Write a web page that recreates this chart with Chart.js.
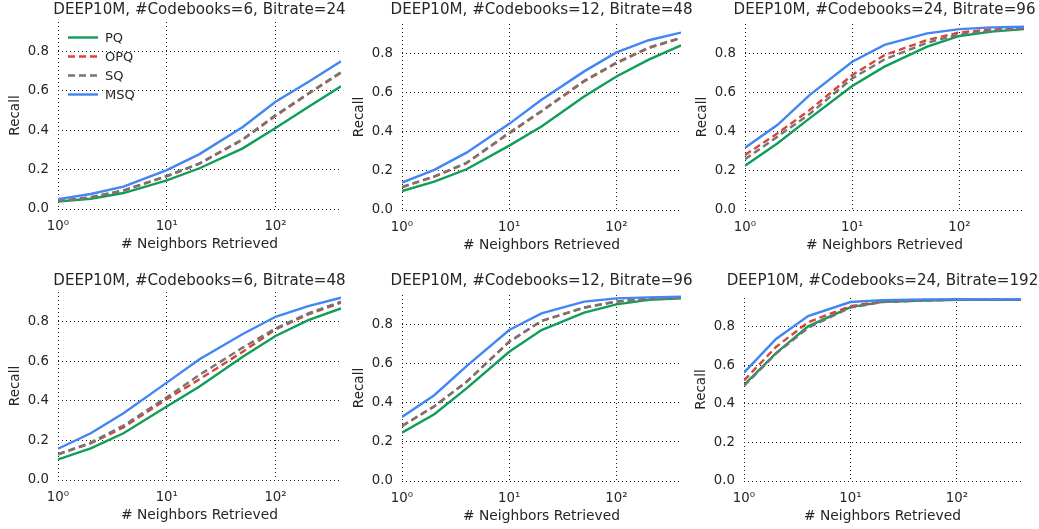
<!DOCTYPE html>
<html>
<head>
<meta charset="utf-8">
<script src="https://cdn.jsdelivr.net/npm/chart.js@4.4.1/dist/chart.umd.min.js"></script>
<style>
  html, body { margin: 0; padding: 0; background: #fff; }
  body { width: 1039px; height: 529px; position: relative; overflow: hidden; }
  canvas { position: absolute; }
</style>
</head>
<body>
<script>
// neighbors retrieved (x) for every panel
var neighbors = [1, 2, 4, 10, 20, 50, 100, 200, 400];

var titles = [
  "DEEP10M, #Codebooks=6, Bitrate=24",
  "DEEP10M, #Codebooks=12, Bitrate=48",
  "DEEP10M, #Codebooks=24, Bitrate=96",
  "DEEP10M, #Codebooks=6, Bitrate=48",
  "DEEP10M, #Codebooks=12, Bitrate=96",
  "DEEP10M, #Codebooks=24, Bitrate=192"
];

var yTicks = [0, 0.2, 0.4, 0.6, 0.8];
var xTicks = [1, 10, 100];

// recall per panel, one row per subplot
var pqRecall = [
  [0.038, 0.052, 0.081, 0.145, 0.207, 0.308, 0.412, 0.518, 0.623],
  [0.097, 0.145, 0.208, 0.329, 0.426, 0.580, 0.682, 0.768, 0.841],
  [0.226, 0.340, 0.468, 0.633, 0.732, 0.834, 0.889, 0.911, 0.924],
  [0.104, 0.160, 0.236, 0.371, 0.472, 0.623, 0.728, 0.808, 0.867],
  [0.247, 0.341, 0.473, 0.660, 0.771, 0.860, 0.902, 0.925, 0.933],
  [0.499, 0.664, 0.803, 0.903, 0.930, 0.937, 0.941, 0.941, 0.941]
];
var opqRecall = [
  [0.040, 0.059, 0.093, 0.166, 0.230, 0.352, 0.473, 0.584, 0.692],
  [0.116, 0.170, 0.239, 0.392, 0.503, 0.657, 0.750, 0.827, 0.878],
  [0.281, 0.391, 0.510, 0.689, 0.791, 0.868, 0.907, 0.922, 0.929],
  [0.130, 0.185, 0.266, 0.408, 0.509, 0.648, 0.761, 0.837, 0.896],
  [0.281, 0.382, 0.507, 0.711, 0.817, 0.885, 0.916, 0.930, 0.935],
  [0.522, 0.696, 0.824, 0.908, 0.932, 0.939, 0.941, 0.941, 0.941]
];
var sqRecall = [
  [0.040, 0.060, 0.095, 0.168, 0.232, 0.355, 0.477, 0.587, 0.696],
  [0.118, 0.172, 0.241, 0.395, 0.506, 0.660, 0.753, 0.830, 0.880],
  [0.259, 0.374, 0.490, 0.672, 0.769, 0.854, 0.897, 0.916, 0.926],
  [0.130, 0.189, 0.275, 0.418, 0.531, 0.669, 0.766, 0.842, 0.901],
  [0.280, 0.381, 0.506, 0.712, 0.818, 0.886, 0.917, 0.931, 0.936],
  [0.494, 0.661, 0.795, 0.900, 0.929, 0.937, 0.941, 0.941, 0.941]
];
var msqRecall = [
  [0.050, 0.076, 0.114, 0.198, 0.279, 0.417, 0.545, 0.645, 0.750],
  [0.140, 0.205, 0.293, 0.440, 0.563, 0.708, 0.805, 0.867, 0.906],
  [0.318, 0.434, 0.587, 0.757, 0.843, 0.902, 0.924, 0.933, 0.936],
  [0.158, 0.236, 0.337, 0.492, 0.610, 0.738, 0.825, 0.879, 0.921],
  [0.327, 0.438, 0.587, 0.771, 0.856, 0.916, 0.933, 0.938, 0.941],
  [0.563, 0.737, 0.856, 0.929, 0.939, 0.943, 0.943, 0.943, 0.943]
];

// plot rectangles on the page [left, top, right, bottom], title y per panel
var boxes = [
  [58, 22, 341, 209], [402, 24, 681, 210], [745, 24, 1024, 210],
  [58, 292, 341, 480], [402, 295, 681, 481], [744, 298, 1021, 481]
];
var titleY = [10.5, 10.5, 10.5, 281, 281, 281];

var FONT = "'DejaVu Sans', 'Liberation Sans', sans-serif";
var TEXT = "#262626";
var GRID = "#1a1a1a";
var L = 58, T = 34, B = 46, R = 40;

var sup = { "0": "\u2070", "1": "\u00b9", "2": "\u00b2", "3": "\u00b3" };

function pts(arr) {
  return arr.map(function (v, i) { return { x: neighbors[i], y: v }; });
}

var panelText = {
  id: "panelText",
  afterDraw: function (chart, args, opts) {
    var ctx = chart.ctx, a = chart.chartArea;
    ctx.save();
    ctx.fillStyle = TEXT;
    ctx.font = "15.1px " + FONT;
    ctx.textAlign = "center";
    ctx.textBaseline = "middle";
    ctx.fillText(opts.title, (a.left + a.right) / 2, opts.titleY);
    if (opts.legend) {
      ctx.font = "13px " + FONT;
      ctx.textAlign = "left";
      chart.data.datasets.forEach(function (ds, i) {
        var y = a.top + 15.5 + i * 19;
        ctx.strokeStyle = ds.borderColor;
        ctx.lineWidth = ds.borderWidth;
        ctx.setLineDash(ds.borderDash || []);
        ctx.beginPath();
        ctx.moveTo(a.left + 10, y);
        ctx.lineTo(a.left + 40, y);
        ctx.stroke();
        ctx.setLineDash([]);
        ctx.fillStyle = TEXT;
        ctx.fillText(ds.label, a.left + 47, y + 1);
      });
    }
    ctx.restore();
  }
};

boxes.forEach(function (b, p) {
  var c = document.createElement("canvas");
  var left = b[0] - L, top = b[1] - T;
  c.width = (b[2] - b[0]) + L + R;
  c.height = (b[3] - b[1]) + T + B;
  c.style.left = left + "px";
  c.style.top = top + "px";
  document.body.appendChild(c);

  new Chart(c.getContext("2d"), {
    type: "line",
    data: {
      datasets: [
        { label: "PQ", data: pts(pqRecall[p]), borderColor: "#0f9d58", borderWidth: 2.4, order: 4 },
        { label: "OPQ", data: pts(opqRecall[p]), borderColor: "#db4437", borderWidth: 2.4, borderDash: [7, 4], order: 3 },
        { label: "SQ", data: pts(sqRecall[p]), borderColor: "#757575", borderWidth: 2.4, borderDash: [7, 4], order: 2 },
        { label: "MSQ", data: pts(msqRecall[p]), borderColor: "#4285f4", borderWidth: 2.4, order: 1 }
      ]
    },
    options: {
      responsive: false,
      animation: false,
      layout: { padding: { top: T, right: R, left: 0, bottom: 0 } },
      elements: { point: { radius: 0 }, line: { tension: 0, fill: false } },
      plugins: {
        legend: { display: false },
        tooltip: { enabled: false },
        panelText: { title: titles[p], titleY: titleY[p] - top, legend: p === 0 }
      },
      scales: {
        x: {
          type: "logarithmic",
          min: 1,
          max: 400,
          afterBuildTicks: function (s) {
            s.ticks = xTicks.map(function (v) { return { value: v }; });
          },
          afterFit: function (s) { s.height = B; },
          border: { display: false, dash: [1, 3] },
          grid: { color: GRID, lineWidth: 1, drawTicks: false },
          ticks: {
            padding: 10,
            color: TEXT,
            font: { family: FONT, size: 13.3 },
            maxRotation: 0,
            autoSkip: false,
            callback: function (v) {
              var e = Math.round(Math.log10(v));
              return "10" + sup[String(e)];
            }
          },
          title: {
            display: true,
            text: "# Neighbors Retrieved",
            color: TEXT,
            font: { family: FONT, size: 13.8 },
            padding: { top: 0, bottom: 2 }
          }
        },
        y: {
          min: 0,
          max: 0.95,
          afterBuildTicks: function (s) {
            s.ticks = yTicks.map(function (v) { return { value: v }; });
          },
          afterFit: function (s) { s.width = L; },
          border: { display: false, dash: [1, 3] },
          grid: { color: GRID, lineWidth: 1, drawTicks: false },
          ticks: {
            padding: 9,
            color: TEXT,
            font: { family: FONT, size: 13.3 },
            callback: function (v) { return Number(v).toFixed(1); }
          },
          title: {
            display: true,
            text: "Recall",
            color: TEXT,
            font: { family: FONT, size: 13.5 },
            padding: { top: 7, bottom: 0 }
          }
        }
      }
    },
    plugins: [panelText]
  });
});
</script>
</body>
</html>
